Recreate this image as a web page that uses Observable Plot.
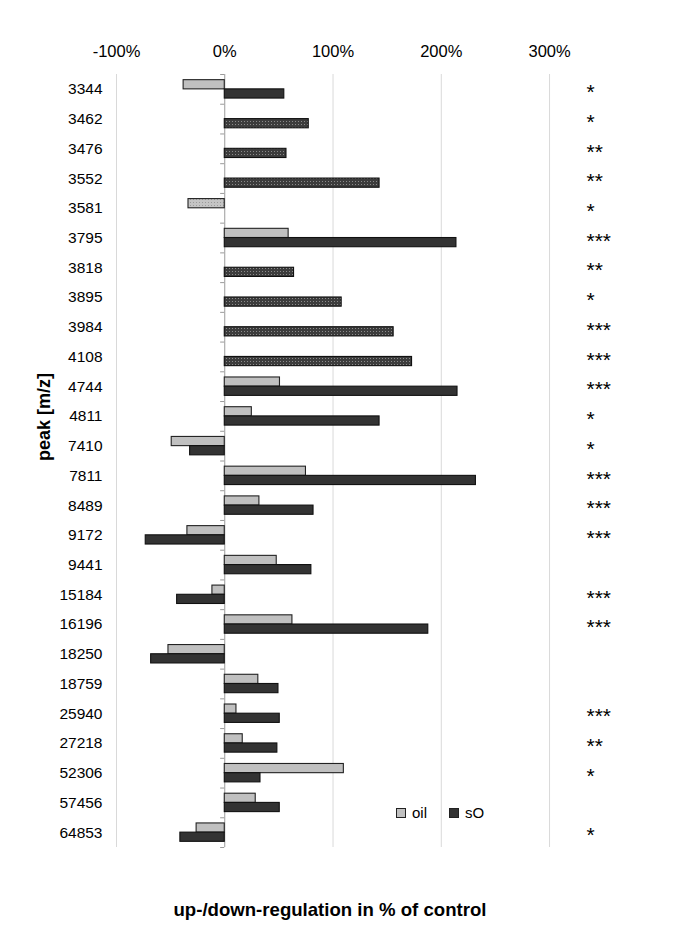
<!DOCTYPE html>
<html>
<head>
<meta charset="utf-8">
<script src="https://cdn.jsdelivr.net/npm/d3@7"></script>
<script src="https://cdn.jsdelivr.net/npm/@observablehq/plot@0.6"></script>
<style>
  html, body { margin: 0; padding: 0; background: #fff; }
  #wrap { position: relative; width: 685px; height: 950px; font-family: "Liberation Sans", Arial, sans-serif; }
  #legend { position: absolute; left: 396px; top: 804px; display: flex; align-items: center; font-size: 15px; color: #000; }
  #legend .sw { width: 8px; height: 8px; border: 1px solid #222; display: inline-block; margin-right: 6px; }
  #legend .item { display: flex; align-items: center; margin-right: 22px; }
</style>
</head>
<body>
<div id="wrap">
  <div id="legend">
    <span class="item"><span class="sw" style="background:#c0c0c0"></span>oil</span>
    <span class="item"><span class="sw" style="background:#333"></span>sO</span>
  </div>
</div>
<script>
// ---- data ----
const peaks = ["3344","3462","3476","3552","3581","3795","3818","3895","3984","4108","4744","4811","7410","7811","8489","9172","9441","15184","16196","18250","18759","25940","27218","52306","57456","64853"];
const oil   = [-38, null, null, null, -33.5, 59, null, null, null, null, 51, 25, -49, 75, 32, -34.5, 48, -11.4, 62.5, -52, 31, 10.8, 16.6, 110, 28.6, -26];
const sO    = [55, 77.6, 57, 143, null, 214, 64, 108, 156, 173, 215, 143, -32, 232, 82, -73, 80, -44, 188, -68, 49.6, 50.8, 48.6, 33, 50.8, -41];
const sig   = ["*","*","**","**","*","***","**","*","***","***","***","*","*","***","***","***","","***","***","","","***","**","*","","*"];
const xTicks = [-100, 0, 100, 200, 300];
const gridTicks = [-100, 100, 200, 300];
const xDomain = [-100, 360];
const xTitle = "up-/down-regulation in % of control";
const yTitle = "peak [m/z]";

const rows = peaks.map((p, i) => ({peak: p, oil: oil[i], sO: sO[i], sig: sig[i], single: oil[i] == null || sO[i] == null}));

const W = 685, H = 950, mT = 74, mB = 103, mL = 116, mR = 71;
const band = (H - mT - mB) / peaks.length;
const half = band / 2, barH = 9.2;

const oilRows = rows.filter(d => d.oil != null);
const sORows = rows.filter(d => d.sO != null);
const oilStyle = {insetTop: half - barH, insetBottom: half, stroke: "#222", strokeWidth: 1.1};
const sOStyle = {insetTop: half, insetBottom: half - barH, stroke: "#111", strokeWidth: 1.1};

const chart = Plot.plot({
  width: W, height: H,
  marginTop: mT, marginBottom: mB, marginLeft: mL, marginRight: mR,
  style: {fontFamily: "Liberation Sans, Arial, sans-serif", color: "#000", background: "transparent"},
  x: {domain: xDomain},
  y: {type: "band", domain: peaks, range: [mT, H - mB], paddingInner: 0, paddingOuter: 0, align: 0.5, round: false},
  marks: [
    Plot.ruleX(gridTicks, {stroke: "#d9d9d9", strokeWidth: 1}),
    Plot.ruleX([0], {stroke: "#9a9a9a", strokeWidth: 1}),
    Plot.ruleY(peaks, {y: d => d, x1: -3.8, x2: 0, dy: -half, stroke: "#9a9a9a"}),
    Plot.ruleY(peaks.slice(-1), {y: d => d, x1: -3.8, x2: 0, dy: half, stroke: "#9a9a9a"}),
    Plot.barX(oilRows.filter(d => !d.single), {x: "oil", y: "peak", fill: "#c0c0c0", ...oilStyle}),
    Plot.barX(oilRows.filter(d => d.single), {x: "oil", y: "peak", fill: "url(#dotLight)", ...oilStyle}),
    Plot.barX(sORows.filter(d => !d.single), {x: "sO", y: "peak", fill: "#333333", ...sOStyle}),
    Plot.barX(sORows.filter(d => d.single), {x: "sO", y: "peak", fill: "url(#dotDark)", ...sOStyle}),
    Plot.text(rows, {y: "peak", text: "sig", frameAnchor: "right", textAnchor: "start", dx: -28, dy: 3, fontSize: 21, letterSpacing: "0.5px", fill: "#000"}),
    Plot.axisX(xTicks, {anchor: "top", tickSize: 0, tickPadding: 18, tickFormat: d => `${d}%`, fontSize: 16.5, label: null}),
    Plot.axisY({anchor: "left", tickSize: 0, tickPadding: 14, fontSize: 15.5, label: null}),
    Plot.text([xTitle], {frameAnchor: "bottom-left", textAnchor: "start", dx: 57, dy: 68, fontSize: 18.6, fontWeight: "bold", fill: "#000"}),
    Plot.text([yTitle], {frameAnchor: "left", rotate: -90, dx: -72, dy: 0, fontSize: 18, fontWeight: "bold", fill: "#000"})
  ]
});

// patterns for textured single bars
const svg = d3.select(chart);
const defs = svg.insert("defs", ":first-child");
const pd = defs.append("pattern").attr("id", "dotDark").attr("patternUnits", "userSpaceOnUse").attr("width", 3).attr("height", 3);
pd.append("rect").attr("width", 3).attr("height", 3).attr("fill", "#3c3c3c");
pd.append("rect").attr("x", 1).attr("y", 1).attr("width", 1).attr("height", 1).attr("fill", "#8a8a8a");
const pl = defs.append("pattern").attr("id", "dotLight").attr("patternUnits", "userSpaceOnUse").attr("width", 3).attr("height", 3);
pl.append("rect").attr("width", 3).attr("height", 3).attr("fill", "#c4c4c4");
pl.append("rect").attr("x", 1).attr("y", 1).attr("width", 1).attr("height", 1).attr("fill", "#9a9a9a");

chart.style.position = "absolute";
chart.style.left = "0px";
chart.style.top = "0px";
document.getElementById("wrap").insertBefore(chart, document.getElementById("legend"));
</script>
</body>
</html>
